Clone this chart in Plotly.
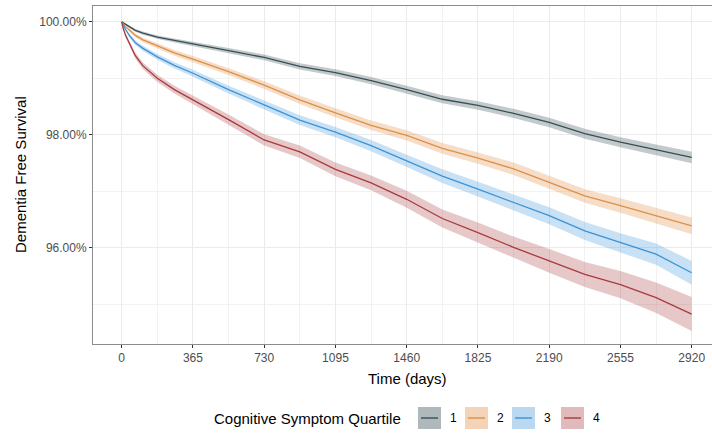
import plotly.graph_objects as go

# ---------------- data ----------------
days = [0, 8, 20, 41, 70, 109, 182.5, 270, 365, 547.5, 730, 912.5, 1095,
        1277.5, 1460, 1642.5, 1825, 2007.5, 2190, 2372.5, 2555, 2737.5, 2920]

q1 = [100, 99.98, 99.95, 99.91, 99.85, 99.80, 99.73, 99.67, 99.61, 99.49, 99.37, 99.21, 99.10,
      98.96, 98.80, 98.63, 98.52, 98.38, 98.22, 98.02, 97.87, 97.74, 97.60]
q2 = [100, 99.96, 99.91, 99.85, 99.76, 99.68, 99.57, 99.45, 99.34, 99.12, 98.88, 98.62, 98.39,
      98.17, 97.99, 97.76, 97.59, 97.40, 97.16, 96.92, 96.75, 96.57, 96.39]
q3 = [100, 99.93, 99.86, 99.75, 99.63, 99.53, 99.38, 99.23, 99.09, 98.80, 98.53, 98.26, 98.05,
      97.81, 97.54, 97.27, 97.04, 96.80, 96.57, 96.30, 96.09, 95.89, 95.56]
q4 = [100, 99.88, 99.76, 99.60, 99.40, 99.22, 99.00, 98.80, 98.62, 98.27, 97.91, 97.70, 97.39,
      97.15, 96.86, 96.52, 96.27, 96.01, 95.77, 95.53, 95.35, 95.12, 94.83]

# confidence-band half widths (percentage points)
q1_hw = [0, .01, .015, .02, .025, .03, .03, .035, .04, .045, .05, .055, .06,
         .065, .07, .07, .075, .08, .085, .09, .09, .095, .10]
q2_hw = [0, .012, .02, .03, .035, .04, .045, .05, .055, .06, .07, .075, .08,
         .085, .09, .095, .10, .11, .115, .12, .13, .14, .15]
q3_hw = [0, .015, .025, .035, .04, .045, .05, .055, .06, .07, .08, .085, .09,
         .10, .11, .12, .13, .14, .15, .16, .17, .19, .21]
q4_hw = [0, .02, .03, .045, .055, .06, .065, .07, .08, .09, .10, .11, .12,
         .13, .15, .16, .18, .19, .21, .22, .24, .27, .30]

quartiles = ["1", "2", "3", "4"]
x_ticks = [0, 365, 730, 1095, 1460, 1825, 2190, 2555, 2920]
x_minor = [182.5, 547.5, 912.5, 1277.5, 1642.5, 2007.5, 2372.5, 2737.5]
y_ticks = [96, 98, 100]
y_ticklabels = ["96.00%", "98.00%", "100.00%"]
y_minor = [95, 97, 99]

# ---------------- styling ----------------
line_colors = ["#374E55", "#DF8F44", "#3A93D8", "#A83A3E"]
band_colors = ["rgba(55,78,85,0.30)", "rgba(223,143,68,0.30)",
               "rgba(58,147,216,0.28)", "rgba(168,58,62,0.28)"]
key_colors = ["rgba(55,78,85,0.40)", "rgba(223,143,68,0.38)",
              "rgba(58,147,216,0.35)", "rgba(168,58,62,0.35)"]
FONT = "Liberation Sans, Arial, Helvetica, sans-serif"

series = [q1, q2, q3, q4]
halfw = [q1_hw, q2_hw, q3_hw, q4_hw]

fig = go.Figure()

# bands
for s, hw, bc in zip(series, halfw, band_colors):
    lo = [v - h for v, h in zip(s, hw)]
    hi = [v + h for v, h in zip(s, hw)]
    fig.add_trace(go.Scatter(x=days, y=lo, mode="lines", line=dict(width=0),
                             showlegend=False, hoverinfo="skip"))
    fig.add_trace(go.Scatter(x=days, y=hi, mode="lines", line=dict(width=0),
                             fill="tonexty", fillcolor=bc, showlegend=False,
                             hoverinfo="skip"))
# lines
for s, lc, name in zip(series, line_colors, quartiles):
    fig.add_trace(go.Scatter(x=days, y=s, mode="lines", name=name,
                             line=dict(color=lc, width=1.3), showlegend=False))

W, H = 712, 433
ml, mr, mt, mb = 93, 0, 6, 89
pw, ph = W - ml - mr, H - mt - mb


def px(xp):
    return (xp - ml) / pw


def py(yp):
    return (H - mb - yp) / ph


shapes = []
annotations = []

# axis titles
annotations.append(dict(text="Time (days)", x=px(407), y=py(378), xref="paper", yref="paper",
                        showarrow=False, xanchor="center", yanchor="middle",
                        font=dict(family=FONT, size=15, color="black")))
annotations.append(dict(text="Dementia Free Survival", x=px(20), y=py(175), xref="paper",
                        yref="paper", showarrow=False, textangle=-90, xanchor="center",
                        yanchor="middle", font=dict(family=FONT, size=15, color="black")))

# manual legend (ggplot style)
leg_y = 418
annotations.append(dict(text="Cognitive Symptom Quartile", x=px(212), y=py(leg_y),
                        xref="paper", yref="paper", showarrow=False, xanchor="left",
                        yanchor="middle", font=dict(family=FONT, size=15, color="black")))
key_x = [418, 465, 512, 561]
for kx, name, lc, kc in zip(key_x, quartiles, line_colors, key_colors):
    shapes.append(dict(type="rect", xref="paper", yref="paper",
                       x0=px(kx), x1=px(kx + 23), y0=py(leg_y - 11), y1=py(leg_y + 11),
                       fillcolor=kc, line=dict(width=0)))
    shapes.append(dict(type="line", xref="paper", yref="paper",
                       x0=px(kx + 3), x1=px(kx + 20), y0=py(leg_y), y1=py(leg_y),
                       line=dict(color=lc, width=1.4)))
    annotations.append(dict(text=name, x=px(kx + 35), y=py(leg_y), xref="paper",
                            yref="paper", showarrow=False, xanchor="center",
                            yanchor="middle", font=dict(family=FONT, size=12, color="black")))

fig.update_layout(
    width=W, height=H,
    margin=dict(l=ml, r=mr, t=mt, b=mb),
    paper_bgcolor="white", plot_bgcolor="white",
    showlegend=False,
    shapes=shapes, annotations=annotations,
    xaxis=dict(range=[-147, 3024], tickvals=x_ticks, ticktext=[str(v) for v in x_ticks],
               showgrid=True, gridcolor="#EBEBEB", gridwidth=1.3,
               minor=dict(tickvals=x_minor, showgrid=True, gridcolor="#F2F2F2", gridwidth=0.7),
               zeroline=False, showline=True, linecolor="#8C8C8C", linewidth=1, mirror=True,
               ticks="outside", ticklen=3, tickcolor="#333333", tickwidth=1,
               tickfont=dict(family=FONT, size=12, color="#4D4D4D")),
    yaxis=dict(range=[94.30, 100.28], tickvals=y_ticks, ticktext=y_ticklabels,
               showgrid=True, gridcolor="#EBEBEB", gridwidth=1.3,
               minor=dict(tickvals=y_minor, showgrid=True, gridcolor="#F2F2F2", gridwidth=0.7),
               zeroline=False, showline=True, linecolor="#8C8C8C", linewidth=1,
               ticks="outside", ticklen=3, tickcolor="#333333", tickwidth=1,
               tickfont=dict(family=FONT, size=12, color="#4D4D4D")),
)

fig.write_html("out.html",
               config={"displayModeBar": False},
               post_script="document.body.style.margin='0px';"
                           "document.body.style.overflow='hidden';")
